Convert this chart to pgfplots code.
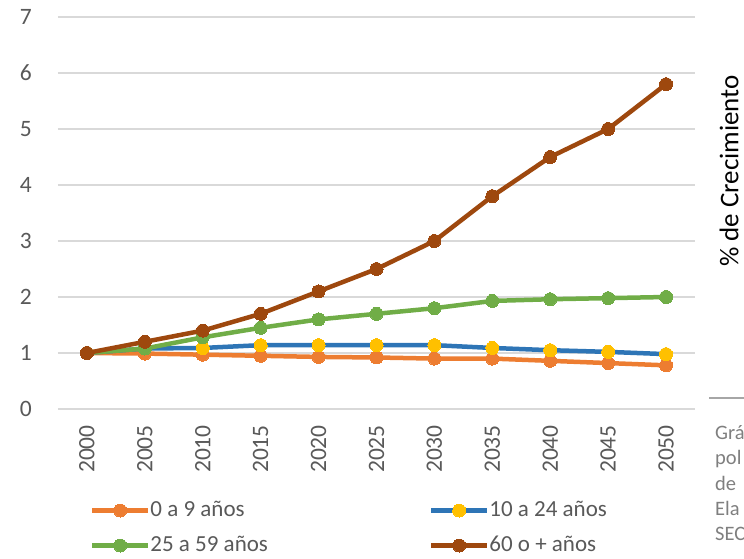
\documentclass[border=0pt]{standalone}
\usepackage{pgfplots}
\pgfplotsset{compat=1.18}
\usepackage{fontspec}
\setmainfont{Carlito}
\definecolor{cOrange}{HTML}{ED7D31}
\definecolor{cBlue}{HTML}{2E75B6}
\definecolor{cYellow}{HTML}{FFC000}
\definecolor{cGreen}{HTML}{70AD47}
\definecolor{cBrown}{HTML}{9E480E}
\definecolor{cGrid}{HTML}{D9D9D9}
\definecolor{cTick}{HTML}{595959}
\definecolor{cNote}{HTML}{7F7F7F}
\definecolor{cRule}{HTML}{A6A6A6}
\begin{document}
\begin{tikzpicture}
\useasboundingbox (0,0) rectangle (744pt,558pt);
\clip (0,0) rectangle (744pt,558pt);
\begin{axis}[
  at={(58pt,149pt)}, anchor=south west,
  width=637pt, height=392pt, scale only axis,
  xmin=1997.5, xmax=2052.5, ymin=0, ymax=7,
  xtick={2000,2005,...,2050}, ytick={0,1,...,7},
  axis line style={draw=none},
  major tick length=0pt,
  ymajorgrids, grid style={cGrid, line width=1.5pt},
  /pgf/number format/1000 sep={},
  /pgf/number format/assume math mode=true,
  ticklabel style={font=\fontsize{23.5}{28}\selectfont, text=cTick, inner sep=0pt},
  xticklabel style={rotate=90, anchor=east},
  yticklabel style={anchor=east},
  xticklabel shift=16pt, yticklabel shift=26pt,
  legend columns=2,
  legend cell align=left,
  legend style={at={(0.0502,-0.3036)}, anchor=west, draw=none, fill=none,
    inner sep=0pt, outer sep=0pt, font=\fontsize{23}{28}\selectfont, text=cTick,
    nodes={inner sep=0pt, text depth=5pt, text height=17pt},
    row sep=13pt,
    /tikz/every odd column/.append style={column sep=0pt},
    /tikz/every even column/.append style={column sep=161pt}},
  legend image code/.code={\draw[mark repeat=2,mark phase=2,#1] plot coordinates {(0pt,0pt)(28pt,0pt)(56pt,0pt)};},
]
\addplot[cOrange, line width=4.5pt, mark=*, mark size=6.5pt, mark options={solid, fill=cOrange, draw=cOrange, line width=0pt}]
 coordinates {(2000,1.00) (2005,0.99) (2010,0.97) (2015,0.95) (2020,0.93) (2025,0.92) (2030,0.90) (2035,0.90) (2040,0.86) (2045,0.82) (2050,0.78)};
\addlegendentry{0 a 9 años}
\addplot[cBlue, line width=4.5pt, mark=*, mark size=6.5pt, mark options={solid, fill=cYellow, draw=cYellow, line width=0pt}]
 coordinates {(2000,1.00) (2005,1.08) (2010,1.09) (2015,1.14) (2020,1.14) (2025,1.14) (2030,1.14) (2035,1.09) (2040,1.05) (2045,1.02) (2050,0.98)};
\addlegendentry{10 a 24 años}
\addplot[cGreen, line width=4.5pt, mark=*, mark size=6.5pt, mark options={solid, fill=cGreen, draw=cGreen, line width=0pt}]
 coordinates {(2000,1.00) (2005,1.08) (2010,1.28) (2015,1.45) (2020,1.60) (2025,1.70) (2030,1.80) (2035,1.93) (2040,1.96) (2045,1.98) (2050,2.00)};
\addlegendentry{25 a 59 años}
\addplot[cBrown, line width=4.5pt, mark=*, mark size=6.5pt, mark options={solid, fill=cBrown, draw=cBrown, line width=0pt}]
 coordinates {(2000,1.00) (2005,1.20) (2010,1.40) (2015,1.70) (2020,2.10) (2025,2.50) (2030,3.00) (2035,3.80) (2040,4.50) (2045,5.00) (2050,5.80)};
\addlegendentry{60 o + años}
\end{axis}
\node[rotate=90, font=\fontsize{27}{30}\selectfont, text=black, inner sep=0pt] at (729pt,387pt) {\% de Crecimiento};
\draw[cRule, line width=2pt] (709pt,160pt) -- (744pt,160pt);
\node[anchor=base west, inner sep=0pt, font=\fontsize{20.5}{25}\selectfont, text=cNote] at (715pt,119pt) {Grá};
\node[anchor=base west, inner sep=0pt, font=\fontsize{20.5}{25}\selectfont, text=cNote] at (715pt,94pt) {pol};
\node[anchor=base west, inner sep=0pt, font=\fontsize{20.5}{25}\selectfont, text=cNote] at (715pt,68pt) {de};
\node[anchor=base west, inner sep=0pt, font=\fontsize{20.5}{25}\selectfont, text=cNote] at (715pt,43pt) {Ela};
\node[anchor=base west, inner sep=0pt, font=\fontsize{20.5}{25}\selectfont, text=cNote] at (715pt,18pt) {SEC};
\end{tikzpicture}
\end{document}
